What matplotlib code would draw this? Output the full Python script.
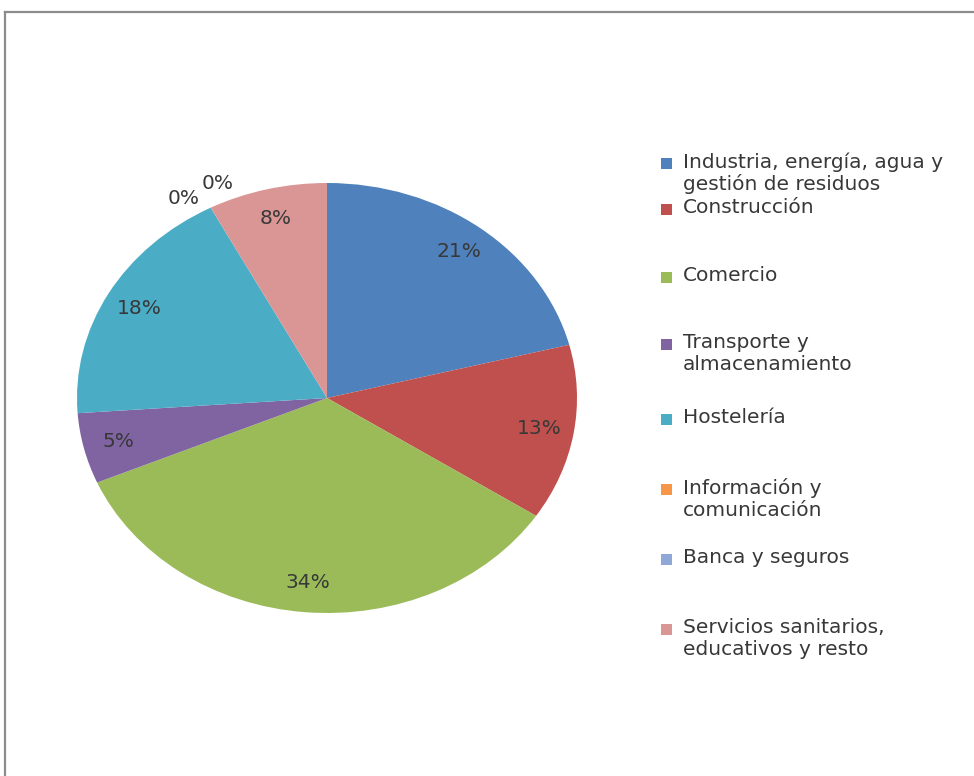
import numpy as np
import matplotlib.pyplot as plt
from matplotlib.patches import Rectangle
from matplotlib.lines import Line2D

# --- Data ---
sectores = [
    "Industria, energía, agua y\ngestión de residuos",
    "Construcción",
    "Comercio",
    "Transporte y\nalmacenamiento",
    "Hostelería",
    "Información y\ncomunicación",
    "Banca y seguros",
    "Servicios sanitarios,\neducativos y resto",
]
porcentajes = [21.0, 13.2, 34.3, 5.3, 18.4, 0.0, 0.0, 7.7]
colores = ["#4F81BD", "#C0504D", "#9BBB59", "#8064A2",
           "#4BACC6", "#F79646", "#8FA8D8", "#D99694"]

plt.rcParams['font.family'] = ['DejaVu Sans']
W, H = 974, 776
fig = plt.figure(figsize=(W / 100, H / 100), dpi=100)
fig.patch.set_facecolor("white")

# --- Frame (top and left edges visible) ---
fig.add_artist(Line2D([5 / W, 5 / W], [0, 1 - 12 / H], transform=fig.transFigure,
                      color="#8c8c8c", lw=1.6))
fig.add_artist(Line2D([5 / W, 1], [1 - 12 / H, 1 - 12 / H], transform=fig.transFigure,
                      color="#8c8c8c", lw=1.6))

# --- Pie (elliptical, like the Excel original) ---
cx, cy, rx, ry = 327, 398, 250, 215
ax = fig.add_axes([(cx - rx) / W, 1 - (cy + ry) / H, 2 * rx / W, 2 * ry / H])
wedges, _ = ax.pie(porcentajes, colors=colores, startangle=90, counterclock=False,
                   radius=1, wedgeprops=dict(linewidth=0))
ax.set_aspect("auto")
ax.set_xlim(-1, 1)
ax.set_ylim(-1, 1)
ax.axis("off")

# --- Percent labels ---
zero_shift = [4, -4]
k = 0
for w, v in zip(wedges, porcentajes):
    mid = np.deg2rad((w.theta1 + w.theta2) / 2)
    r = 0.86
    if v == 0:
        r = 1.09
        mid = mid + np.deg2rad(zero_shift[k % 2])
        k += 1
    ax.text(r * np.cos(mid), r * np.sin(mid), f"{v:.0f}%", ha="center", va="center",
            fontsize=14.5, color="#383838")

# --- Legend ---
leg_y = [164, 210, 278, 345, 420, 490, 560, 630]
for lab, col, y in zip(sectores, colores, leg_y):
    fig.add_artist(Rectangle((661 / W, 1 - (y + 5) / H), 11 / W, 11 / H,
                             transform=fig.transFigure, facecolor=col, edgecolor="none"))
    fig.text(683 / W, 1 - (y - 12) / H, lab, ha="left", va="top",
             fontsize=14.5, color="#383838", linespacing=1.17)

fig.savefig("out.png", dpi=100)
